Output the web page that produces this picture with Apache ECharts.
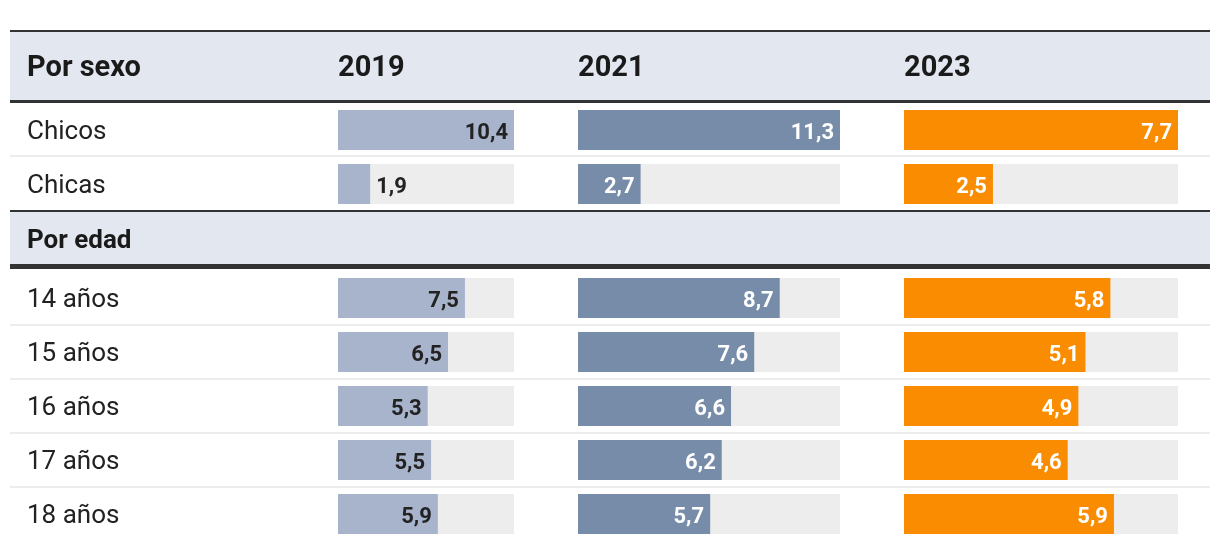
<!DOCTYPE html>
<html>
<head>
<meta charset="utf-8">
<script src="https://cdn.jsdelivr.net/npm/echarts@6/dist/echarts.min.js"></script>
<style>html,body{margin:0;padding:0;background:#fff}#c{width:1220px;height:550px}</style>
</head>
<body>
<div id="c"></div>
<script>
// ---- data ----
var sectionLabels = ['Por sexo', 'Por edad'];
var years = ['2019', '2021', '2023'];
var sexoCats = ['Chicos', 'Chicas'];
var edadCats = ['14 años', '15 años', '16 años', '17 años', '18 años'];
var sexo2019 = [10.4, 1.9];
var sexo2021 = [11.3, 2.7];
var sexo2023 = [7.7, 2.5];
var edad2019 = [7.5, 6.5, 5.3, 5.5, 5.9];
var edad2021 = [8.7, 7.6, 6.6, 6.2, 5.7];
var edad2023 = [5.8, 5.1, 4.9, 4.6, 5.9];

// ---- layout ----
var cols = [
  {left: 338, width: 176, color: '#a8b4cb', text: '#222', sexo: sexo2019, edad: edad2019},
  {left: 578, width: 262, color: '#768ca9', text: '#fff', sexo: sexo2021, edad: edad2021},
  {left: 904, width: 274, color: '#f98c00', text: '#fff', sexo: sexo2023, edad: edad2023}
];
var font = 'Roboto, "Noto Sans", sans-serif';
var blocks = [
  {top: 103, cats: sexoCats, key: 'sexo'},
  {top: 271, cats: edadCats, key: 'edad'}
];
var rowH = 54;

var grids = [], xAxes = [], yAxes = [], series = [];
function fmt(v) { return v.toFixed(1).replace('.', ','); }

cols.forEach(function (col, ci) {
  var max = Math.max.apply(null, col.sexo.concat(col.edad));
  blocks.forEach(function (b) {
    var idx = grids.length;
    grids.push({left: col.left, width: col.width, top: b.top, height: b.cats.length * rowH});
    xAxes.push({type: 'value', gridIndex: idx, min: 0, max: max, show: false});
    yAxes.push({
      type: 'category', gridIndex: idx, data: b.cats, inverse: true,
      axisLine: {show: false}, axisTick: {show: false}, splitLine: {show: false},
      axisLabel: {show: ci === 0, align: 'left', margin: col.left - 27,
                  formatter: function (v) { return '{a|' + v + '}'; },
                  rich: {a: {fontSize: 26, color: '#222', fontFamily: font, padding: [5, 0, 0, 0]}}}
    });
    var vals = col[b.key];
    series.push({
      type: 'bar', xAxisIndex: idx, yAxisIndex: idx, barWidth: 40,
      showBackground: true, backgroundStyle: {color: '#ededed'},
      itemStyle: {color: col.color}, silent: true,
      data: vals.map(function (v) {
        var outside = v / max * col.width < 45;
        return {
          value: v,
          label: {
            show: true, position: outside ? 'right' : 'insideRight', distance: 6,
            offset: [0, 3],
            color: outside ? '#222' : col.text, fontSize: 22, fontWeight: 'bold',
            fontFamily: font, formatter: function (p) { return fmt(p.value); }
          }
        };
      })
    });
  });
});

var graphics = [
  {type: 'rect', shape: {x: 10, y: 30, width: 1200, height: 2}, style: {fill: '#333'}},
  {type: 'rect', shape: {x: 10, y: 32, width: 1200, height: 68}, style: {fill: '#e3e8f0'}},
  {type: 'rect', shape: {x: 10, y: 100, width: 1200, height: 3}, style: {fill: '#333'}},
  {type: 'rect', shape: {x: 10, y: 155, width: 1200, height: 2}, style: {fill: '#ededed'}},
  {type: 'rect', shape: {x: 10, y: 210, width: 1200, height: 2}, style: {fill: '#333'}},
  {type: 'rect', shape: {x: 10, y: 212, width: 1200, height: 52}, style: {fill: '#e3e8f0'}},
  {type: 'rect', shape: {x: 10, y: 264, width: 1200, height: 5}, style: {fill: '#333'}},
  {type: 'text', x: 27, y: 69, style: {text: sectionLabels[0], font: 'bold 29px ' + font, fill: '#1a1a1a', verticalAlign: 'middle'}},
  {type: 'text', x: 27, y: 241, style: {text: sectionLabels[1], font: 'bold 26px ' + font, fill: '#1a1a1a', verticalAlign: 'middle'}}
];
[324, 378, 432, 486].forEach(function (y) {
  graphics.push({type: 'rect', shape: {x: 10, y: y, width: 1200, height: 2}, style: {fill: '#ededed'}});
});
cols.forEach(function (col, ci) {
  graphics.push({type: 'text', x: col.left, y: 69, style: {text: years[ci], font: 'bold 29px ' + font, fill: '#1a1a1a', verticalAlign: 'middle'}});
});

var chart = echarts.init(document.getElementById('c'), null, {renderer: 'canvas'});
chart.setOption({
  animation: false,
  grid: grids, xAxis: xAxes, yAxis: yAxes, series: series,
  graphic: graphics
});
</script>
</body>
</html>
